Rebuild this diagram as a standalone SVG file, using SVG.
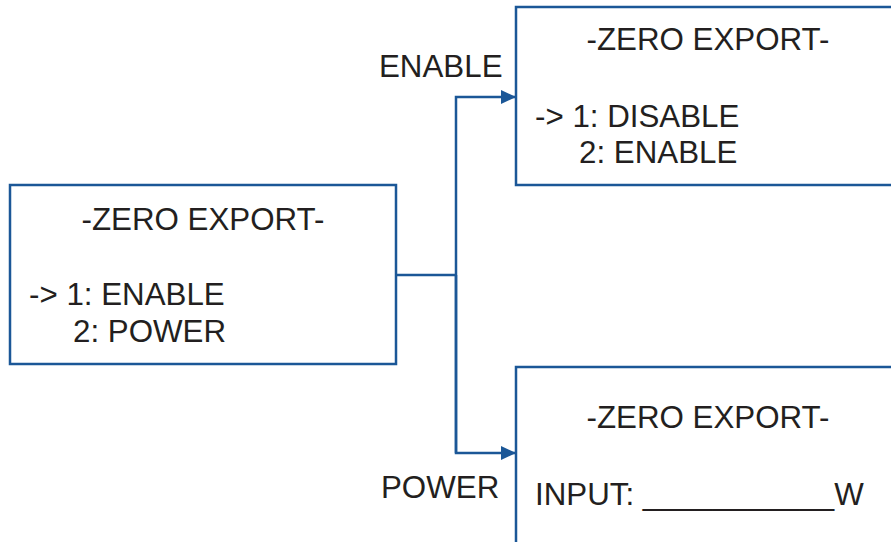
<svg xmlns="http://www.w3.org/2000/svg" width="891" height="542" viewBox="0 0 891 542">
<style>
.box{fill:#fff;stroke:#1b5797;stroke-width:2.5}
.t{font-family:"Liberation Sans",Arial,sans-serif;font-size:31.3px;fill:#231f20}
.c{fill:none;stroke:#1b5797;stroke-width:2.5}
</style>
<defs>
<marker id="ah" markerWidth="16" markerHeight="14" refX="15" refY="7" orient="auto" markerUnits="userSpaceOnUse">
<path d="M0,0 L15,7 L0,14 Z" fill="#1b5797"/>
</marker>
</defs>
<rect width="891" height="542" fill="#fff"/>
<g id="connectors">
<path class="c" d="M396,275 H456"/>
<path class="c" d="M456,453 V97 H516" marker-end="url(#ah)"/>
<path class="c" d="M456,275 V453 H516" marker-end="url(#ah)"/>
<text class="t" x="379" y="77">ENABLE</text>
<text class="t" x="381" y="498">POWER</text>
</g>
<g id="main">
<rect class="box" x="10" y="185" width="386" height="179"/>
<text class="t" x="203" y="230" text-anchor="middle">-ZERO EXPORT-</text>
<text class="t" x="29" y="305">-&gt; 1: ENABLE</text>
<text class="t" x="73" y="342">2: POWER</text>
</g>
<g id="enable">
<rect class="box" x="516" y="7" width="400" height="178"/>
<text class="t" x="708" y="50" text-anchor="middle">-ZERO EXPORT-</text>
<text class="t" x="535" y="127">-&gt; 1: DISABLE</text>
<text class="t" x="579" y="163">2: ENABLE</text>
</g>
<g id="power">
<rect class="box" x="516" y="367" width="400" height="200"/>
<text class="t" x="708" y="428" text-anchor="middle">-ZERO EXPORT-</text>
<text class="t" x="535" y="505">INPUT: ___________W</text>
</g>
</svg>
